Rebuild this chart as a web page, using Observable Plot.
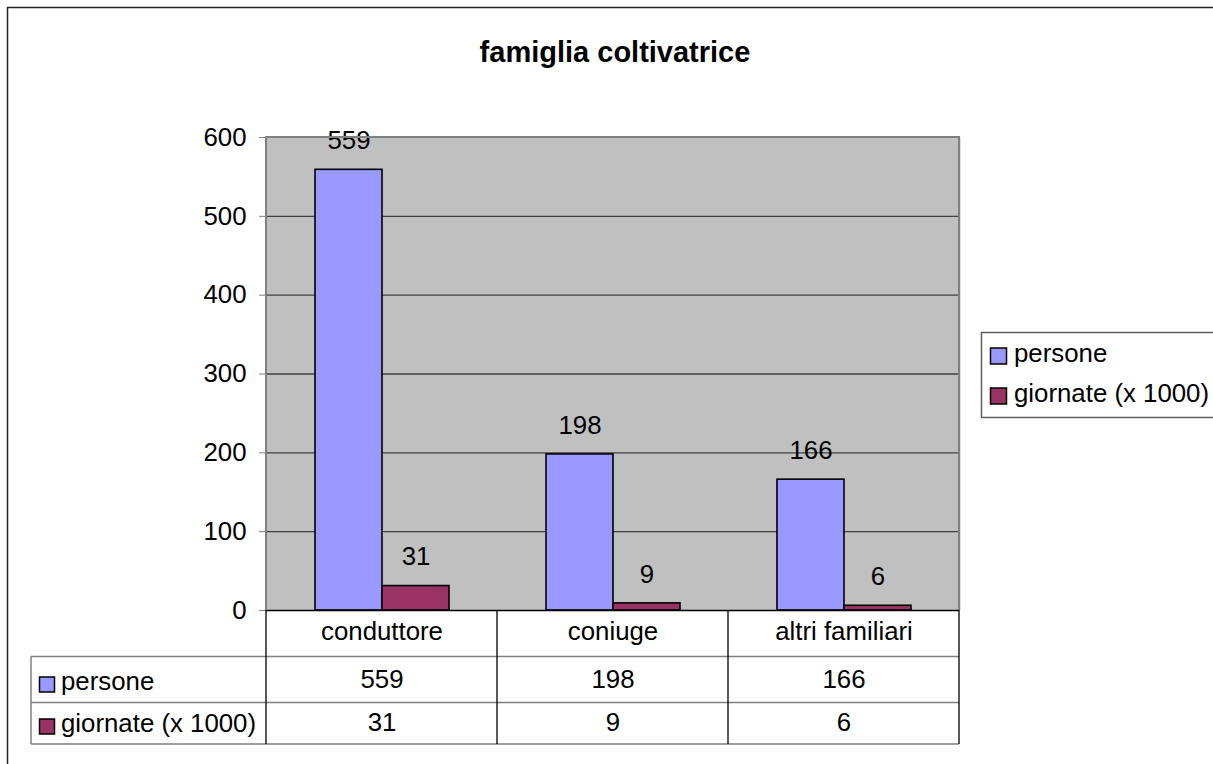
<!DOCTYPE html>
<html>
<head>
<meta charset="utf-8">
<script src="https://cdn.jsdelivr.net/npm/d3@7"></script>
<script src="https://cdn.jsdelivr.net/npm/@observablehq/plot@0.6"></script>
<style>
  html, body { margin: 0; padding: 0; background: #fff; }
  #chart { position: relative; width: 1213px; height: 764px; overflow: hidden; }
  svg { display: block; }
</style>
</head>
<body>
<div id="chart"></div>
<script>
const title = "famiglia coltivatrice";
const categories = ["conduttore", "coniuge", "altri familiari"];
const seriesNames = ["persone", "giornate (x 1000)"];
const persone = [559, 198, 166];
const giornate = [31, 9, 6];
const seriesColors = ["#9999FF", "#993366"];
const yTicks = [0, 100, 200, 300, 400, 500, 600];
const gridTicks = [100, 200, 300, 400, 500];

const seriesValues = [persone, giornate];
const rows = [];
categories.forEach((c, i) => {
  seriesNames.forEach((s, j) => rows.push({cat: c, series: s, value: seriesValues[j][i]}));
});

const FONT = "'Liberation Sans', Arial, Helvetica, sans-serif";
const FS = 25.8;
const ML = 265;

const plot = Plot.plot({
  width: 1213,
  height: 764,
  marginLeft: ML,
  marginRight: 254,
  marginTop: 137,
  marginBottom: 154,
  style: {fontFamily: FONT, fontSize: FS + "px", color: "#000", background: "transparent"},
  fx: {domain: categories, padding: 0, axis: null, label: null},
  x: {domain: seriesNames, paddingInner: 0, paddingOuter: 0.72, axis: null, label: null},
  y: {domain: [0, 600], label: null},
  color: {domain: seriesNames, range: seriesColors},
  marks: [
    Plot.frame({fill: "#C0C0C0", stroke: null, insetLeft: -1, insetRight: -1}),
    Plot.gridY(gridTicks, {stroke: "#404040", strokeOpacity: 1, strokeWidth: 1.3}),
    Plot.axisY(yTicks, {tickSize: 7, tickPadding: 13, stroke: "#808080", fill: "#000", fontSize: FS, label: null}),
    Plot.barY(rows, {fx: "cat", x: "series", y: "value", fill: "series", stroke: "#000", strokeWidth: 1.6}),
    Plot.text(rows, {fx: "cat", x: "series", y: "value", text: d => String(d.value), dy: -29, fontSize: FS, fill: "#000"}),
    Plot.ruleY([0], {stroke: "#000", strokeWidth: 1.6}),
    Plot.text(categories, {fx: d => d, text: d => d, frameAnchor: "bottom", lineAnchor: "middle", dy: 21.5, fontSize: FS, fill: "#000"}),
    Plot.text(categories.map((c, i) => ({cat: c, v: persone[i]})), {fx: "cat", text: d => String(d.v), frameAnchor: "bottom", lineAnchor: "middle", dy: 69, fontSize: FS, fill: "#000"}),
    Plot.text(categories.map((c, i) => ({cat: c, v: giornate[i]})), {fx: "cat", text: d => String(d.v), frameAnchor: "bottom", lineAnchor: "middle", dy: 112, fontSize: FS, fill: "#000"})
  ]
});

document.getElementById("chart").appendChild(plot);

(function decorate() {
  const svg = d3.select(plot);
  const fx = plot.scale("fx");
  const y = plot.scale("y");
  const color = plot.scale("color");
  const bw = fx.bandwidth;
  const fxPos = c => fx.apply(c) + (fx.apply(categories[0]) < ML - 1 ? ML : 0);
  const xLeft = fxPos(categories[0]);
  const xRight = fxPos(categories[categories.length - 1]) + bw;
  const yTop = y.apply(600);
  const yZero = y.apply(0);

  const g = svg.append("g").attr("font-family", FONT).attr("font-size", FS).attr("text-anchor", "start");

  // outer chart border
  g.append("rect").attr("x", 7.5).attr("y", 7.5).attr("width", 1240).attr("height", 800)
    .attr("fill", "none").attr("stroke", "#222").attr("stroke-width", 1.5);

  // plot area border (left, top, right) in gray
  g.append("path")
    .attr("d", `M${xLeft},${yZero}V${yTop}H${xRight}V${yZero}`)
    .attr("fill", "none").attr("stroke", "#808080").attr("stroke-width", 2);

  // data table
  const row1 = yZero + 46.5, row2 = yZero + 92.5, row3 = yZero + 134;
  const tableLeft = 31;
  g.append("path")
    .attr("d", `M${tableLeft},${row1}H${xRight}M${tableLeft},${row2}H${xRight}M${tableLeft},${row3}H${xRight}M${tableLeft},${row1}V${row3}`)
    .attr("fill", "none").attr("stroke", "#808080").attr("stroke-width", 1.5);
  let vd = "";
  categories.forEach(c => { vd += `M${fxPos(c)},${yZero}V${row3}`; });
  vd += `M${xRight},${yZero}V${row3}`;
  g.append("path").attr("d", vd).attr("fill", "none").attr("stroke", "#000").attr("stroke-width", 1.3);

  // table row headers
  const rowBase = [690, 732];
  seriesNames.forEach((s, j) => {
    g.append("rect").attr("x", 39.5).attr("y", rowBase[j] - 13).attr("width", 15).attr("height", 15)
      .attr("fill", color.apply(s)).attr("stroke", "#000").attr("stroke-width", 1.5);
    g.append("text").attr("x", 61).attr("y", rowBase[j]).attr("text-anchor", "start").text(s).attr("fill", "#000");
  });

  // legend
  g.append("rect").attr("x", 981.5).attr("y", 332.5).attr("width", 260).attr("height", 85)
    .attr("fill", "#fff").attr("stroke", "#606060").attr("stroke-width", 1.5);
  const legBase = [362, 402];
  seriesNames.forEach((s, j) => {
    g.append("rect").attr("x", 990.5).attr("y", legBase[j] - 14).attr("width", 16).attr("height", 16)
      .attr("fill", color.apply(s)).attr("stroke", "#000").attr("stroke-width", 1.5);
    g.append("text").attr("x", 1014).attr("y", legBase[j]).attr("text-anchor", "start").text(s).attr("fill", "#000");
  });

  // title
  g.append("text").attr("x", 615).attr("y", 62).attr("text-anchor", "middle")
    .attr("font-weight", "bold").attr("font-size", 29).attr("fill", "#000").text(title);
})();
</script>
</body>
</html>
